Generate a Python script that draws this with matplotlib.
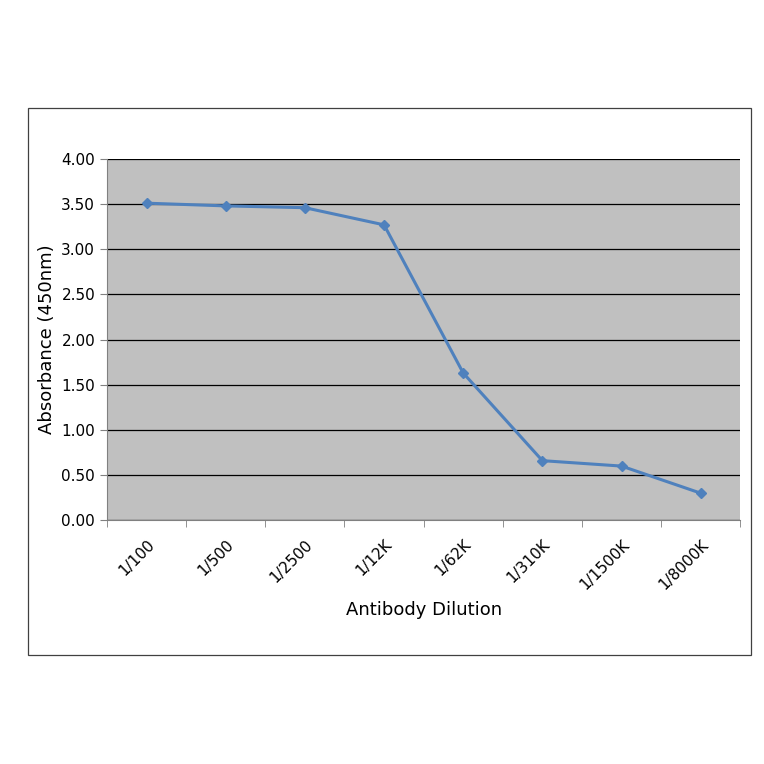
import numpy as np
import matplotlib.pyplot as plt
from matplotlib.patches import Rectangle

dilutions = ["1/100", "1/500", "1/2500", "1/12K", "1/62K", "1/310K", "1/1500K", "1/8000K"]
absorbance = [3.51, 3.48, 3.46, 3.27, 1.63, 0.66, 0.60, 0.30]

fig = plt.figure(figsize=(7.64, 7.64), dpi=100)

# outer chart border
fig.patches.append(Rectangle((0.037, 0.143), 0.946, 0.716, transform=fig.transFigure,
                             fill=False, edgecolor="#404040", linewidth=0.9))

ax = fig.add_axes([0.140, 0.319, 0.829, 0.473])
ax.set_facecolor("#c0c0c0")

x = np.arange(len(dilutions))
ax.plot(x, absorbance, color="#4f81bd", linewidth=2.2, marker="D", markersize=5)

ax.set_xlim(-0.5, len(dilutions) - 0.5)
ax.set_ylim(0, 4)
ax.set_yticks(np.arange(0, 4.01, 0.5))
ax.set_yticklabels([f"{v:.2f}" for v in np.arange(0, 4.01, 0.5)], fontsize=11)
ax.yaxis.grid(True, color="black", linewidth=0.9)
ax.set_axisbelow(True)

ax.set_xticks(x)
ax.set_xticklabels(dilutions, rotation=45, ha="right", rotation_mode="anchor", fontsize=11)
ax.tick_params(axis="x", length=0, pad=12)
ax.set_xticks(np.arange(-0.5, len(dilutions)), minor=True)
ax.tick_params(axis="x", which="minor", length=5, color="#808080")
ax.tick_params(axis="y", length=5, color="#808080")

for side in ["top", "right"]:
    ax.spines[side].set_visible(False)
ax.spines["left"].set_color("#808080")
ax.spines["bottom"].set_color("#808080")

ax.set_ylabel("Absorbance (450nm)", fontsize=13)
ax.set_xlabel("Antibody Dilution", fontsize=13, labelpad=6)

fig.savefig("out.png", dpi=100)
